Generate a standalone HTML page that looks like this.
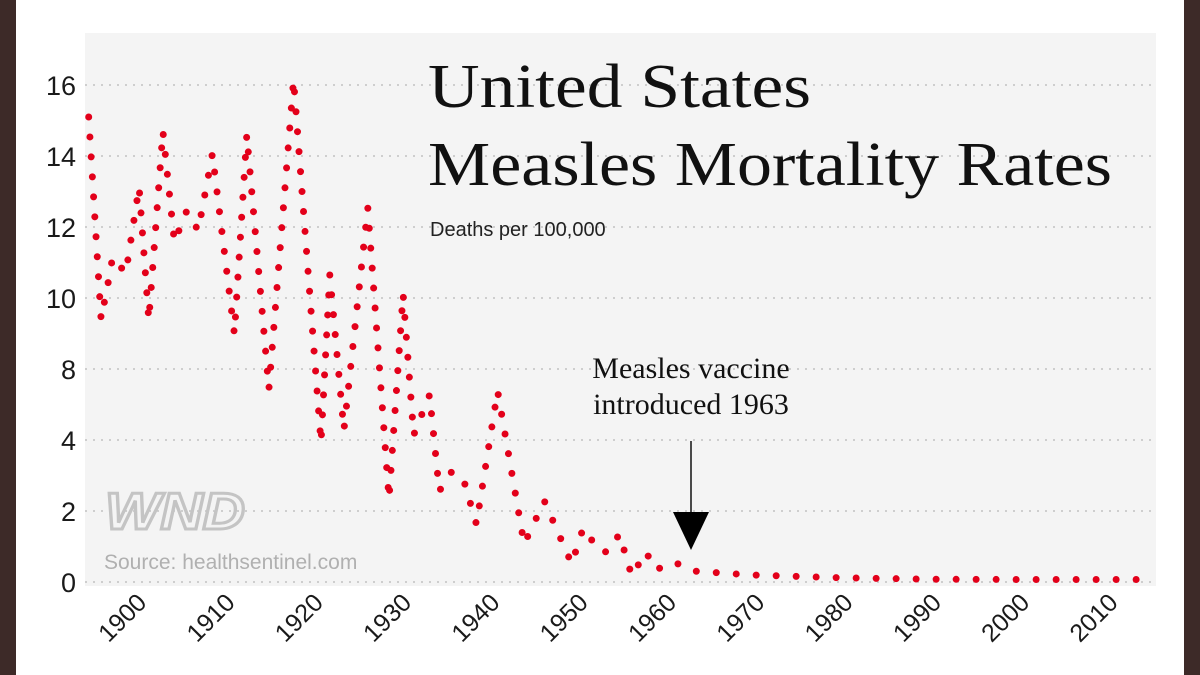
<!DOCTYPE html>
<html><head><meta charset="utf-8"><style>
html,body{margin:0;padding:0;background:#fff}
svg{display:block}
</style></head><body>
<svg width="1200" height="675" viewBox="0 0 1200 675" xmlns="http://www.w3.org/2000/svg">
<rect x="0" y="0" width="1200" height="675" fill="#fff"/>
<rect x="0" y="0" width="16" height="675" fill="#3d2a28"/>
<rect x="1184" y="0" width="16" height="675" fill="#3d2a28"/>
<rect x="85" y="33" width="1071" height="553" fill="#f4f4f4"/>
<g id="grid"></g>
<g id="yticks"></g>
<g id="xticks"></g>
<text x="105" y="529" font-family="Liberation Sans, sans-serif" font-weight="bold" font-style="italic" font-size="52" fill="none" stroke="#c4c4c4" stroke-width="3" textLength="140" lengthAdjust="spacingAndGlyphs">WND</text>
<text x="104" y="569" font-family="Liberation Sans, sans-serif" font-size="21" fill="#b0b0b0">Source: healthsentinel.com</text>
<text x="428" y="107" font-family="Liberation Serif, serif" font-size="62" fill="#111" textLength="383" lengthAdjust="spacingAndGlyphs">United States</text>
<text x="428" y="185" font-family="Liberation Serif, serif" font-size="62" fill="#111" textLength="684" lengthAdjust="spacingAndGlyphs">Measles Mortality Rates</text>
<text x="430" y="236" font-family="Liberation Sans, sans-serif" font-size="20" fill="#222">Deaths per 100,000</text>
<text x="691" y="378" text-anchor="middle" font-family="Liberation Serif, serif" font-size="30" fill="#111">Measles vaccine</text>
<text x="691" y="414" text-anchor="middle" font-family="Liberation Serif, serif" font-size="30" fill="#111">introduced 1963</text>
<g id="marks"></g>
<line x1="691" y1="441" x2="691" y2="515" stroke="#111" stroke-width="1.5"/>
<polygon points="673,512 709,512 691,550" fill="#000"/>
</svg>
<script>
const years = [1895.1,1896.5,1897.4,1897.8,1899.3,1900.8,1901.9,1903.5,1904.8,1906.2,1907.5,1909.1,1911.6,1913.0,1915.5,1918.3,1921.4,1922.4,1924.0,1926.7,1929.1,1930.7,1931.9,1933.7,1934.8,1936.2,1937.5,1939.0,1941.4,1944.4,1946.7,1949.8,1951.1,1953.0,1953.9,1955.2,1956.6,1958.2,1959.3,1961.4,1963.5,1970,1980,1990,2000,2015.1];
const rates = [15.1,9.4,10.56,11.15,10.7,13.13,9.38,14.7,11.58,12.45,11.9,14.06,8.99,14.6,6.87,16.14,3.92,10.65,4.56,12.54,2.34,10.11,4.28,6.54,2.56,3.1,2.93,1.63,6.76,1.07,2.28,0.51,1.52,0.85,0.85,1.35,0.17,0.85,0.34,0.56,0.31,0.2,0.12,0.08,0.07,0.07];
const yTickLabels = [16,14,12,10,8,4,2,0];
const xTickYears = [1900,1910,1920,1930,1940,1950,1960,1970,1980,1990,2000,2010];

const NS = "http://www.w3.org/2000/svg";
function xScale(yr){ return 132 + (yr - 1900) * 8.83; }
function yScale(v){
  for (let i = 0; i < yTickLabels.length - 1; i++) {
    const a = yTickLabels[i], b = yTickLabels[i+1];
    if (v <= a && v >= b) return 85 + 71 * (i + (a - v) / (a - b));
  }
  return v > yTickLabels[0] ? 85 - (v - yTickLabels[0]) * 35.5 : 582;
}
const grid = document.getElementById('grid');
const yt = document.getElementById('yticks');
yTickLabels.forEach((lab, i) => {
  const y = 85 + 71 * i;
  const l = document.createElementNS(NS, 'line');
  l.setAttribute('x1', 85); l.setAttribute('x2', 1156);
  l.setAttribute('y1', y); l.setAttribute('y2', y);
  l.setAttribute('stroke', '#b8b8b8'); l.setAttribute('stroke-width', '1.2');
  l.setAttribute('stroke-dasharray', '2 6');
  
  
  grid.appendChild(l);
  const t = document.createElementNS(NS, 'text');
  t.setAttribute('x', 76); t.setAttribute('y', y + 10);
  t.setAttribute('text-anchor', 'end');
  t.setAttribute('font-family', 'Liberation Sans, sans-serif');
  t.setAttribute('font-size', '27'); t.setAttribute('fill', '#1a1a1a');
  t.textContent = lab;
  
  
  yt.appendChild(t);
});
const xt = document.getElementById('xticks');
xTickYears.forEach(yr => {
  const x = xScale(yr) + 16, y = 604;
  const t = document.createElementNS(NS, 'text');
  t.setAttribute('x', x); t.setAttribute('y', y);
  t.setAttribute('text-anchor', 'end');
  t.setAttribute('transform', `rotate(-45 ${x} ${y})`);
  t.setAttribute('font-family', 'Liberation Sans, sans-serif');
  t.setAttribute('font-size', '25'); t.setAttribute('fill', '#1a1a1a');
  t.textContent = yr;
  
  
  xt.appendChild(t);
});
const pts = years.map((yr, i) => xScale(yr).toFixed(1) + ',' + yScale(rates[i]).toFixed(1)).join(' ');
const pl = document.createElementNS(NS, 'polyline');
pl.setAttribute('points', pts);
pl.setAttribute('fill', 'none');
pl.setAttribute('stroke', '#e3001a');
pl.setAttribute('stroke-width', '7');
pl.setAttribute('stroke-linecap', 'round');
pl.setAttribute('stroke-linejoin', 'round');
pl.setAttribute('stroke-dasharray', '0 20');


document.getElementById('marks').appendChild(pl);
</script>
</body></html>
